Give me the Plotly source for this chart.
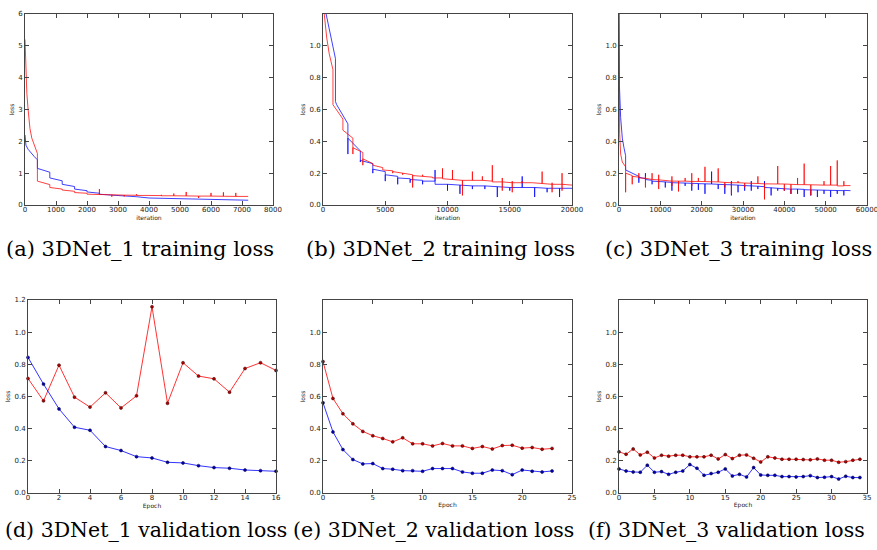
import plotly.graph_objects as go

# ---------------- data ----------------
# (a) 3DNet_1 training loss
a_red_iter = [0, 30, 60, 100, 160, 220, 300, 400, 400, 800, 800, 1200, 1200, 1600, 1600, 2000, 2000,
              2400, 2400, 2400, 2800, 2800, 2800, 3200, 3200, 3200, 3600, 3600, 3600, 4000, 4400, 4400, 4400,
              4800, 4800, 4800, 5200, 5200, 5200, 5600, 5600, 5600, 6000, 6000, 6000, 6400, 6400, 6400,
              6800, 6800, 6800, 7200]
a_red_loss = [5.2, 4.2, 3.5, 3.0, 2.4, 2.1, 1.9, 1.62, 0.75, 0.64, 0.55, 0.5, 0.47, 0.43, 0.39, 0.37, 0.34,
              0.33, 0.5, 0.33, 0.32, 0.26, 0.32, 0.31, 0.27, 0.31, 0.305, 0.34, 0.30, 0.30, 0.295, 0.32, 0.29,
              0.29, 0.36, 0.29, 0.285, 0.41, 0.285, 0.28, 0.22, 0.28, 0.28, 0.38, 0.28, 0.275, 0.40, 0.275,
              0.27, 0.38, 0.27, 0.27]
a_blue_iter = [0, 10, 30, 100, 200, 300, 400, 400, 800, 800, 1200, 1200, 1600, 1600, 2000, 2000, 2400, 2400,
               2800, 3200, 3600, 4000, 4400, 4800, 5200, 5600, 6000, 6400, 6800, 7200]
a_blue_loss = [2.2, 2.0, 1.88, 1.75, 1.62, 1.52, 1.42, 1.15, 1.03, 0.85, 0.76, 0.65, 0.58, 0.5, 0.45, 0.41,
               0.37, 0.34, 0.31, 0.29, 0.26, 0.22, 0.21, 0.19, 0.19, 0.18, 0.17, 0.16, 0.155, 0.15]

# (b) 3DNet_2 training loss
b_red_iter = [0, 100, 300, 500, 800, 800, 1600, 1600, 2400, 2400, 2400, 3200, 3200, 3200, 4000, 4000,
              4800, 4800, 5600, 5600, 5600, 6400, 6400, 6400, 7200, 7200, 7200, 8000, 8000, 8000, 8800, 8800,
              9600, 9600, 9600, 10400, 10400, 10400, 11200, 11200, 11200, 12000, 12000, 12000,
              12800, 12800, 12800, 13600, 13600, 13600, 14400, 14400, 14400, 14400,
              15200, 15200, 15200, 15200, 16000, 16000, 16000, 16800, 17600, 17600, 17600,
              18400, 18400, 18400, 18400, 19200, 19200, 19200, 19200, 20000]
b_red_loss = [1.35, 1.2, 1.05, 0.95, 0.85, 0.63, 0.54, 0.47, 0.42, 0.32, 0.36, 0.33, 0.25, 0.29, 0.26, 0.25,
              0.235, 0.22, 0.215, 0.20, 0.21, 0.20, 0.19, 0.20, 0.19, 0.11, 0.185, 0.18, 0.19, 0.18, 0.175, 0.17,
              0.17, 0.23, 0.165, 0.16, 0.22, 0.16, 0.155, 0.06, 0.155, 0.155, 0.21, 0.155,
              0.155, 0.18, 0.155, 0.15, 0.25, 0.145, 0.145, 0.09, 0.17, 0.145,
              0.14, 0.08, 0.15, 0.14, 0.14, 0.15, 0.14, 0.14, 0.135, 0.21, 0.135,
              0.13, 0.08, 0.14, 0.13, 0.13, 0.20, 0.09, 0.13, 0.125]
b_blue_iter = [250, 500, 800, 1000, 1000, 1100, 2000, 2000, 2000, 3000, 3000, 3000, 4000, 4000, 4000,
               5000, 5000, 5000, 6000, 6000, 6000, 7000, 7000, 7000, 8000, 8000, 8000, 9000, 9000, 9000,
               10000, 10000, 10000, 11000, 11000, 11000, 12000, 12000, 12000, 13000, 13000, 13000,
               14000, 14000, 14000, 15000, 15000, 15000, 16000, 16000, 16000, 17000, 17000, 17000,
               18000, 18000, 18000, 19000, 19000, 19000, 20000]
b_blue_loss = [1.2, 1.1, 1.0, 0.92, 0.65, 0.63, 0.51, 0.32, 0.42, 0.34, 0.27, 0.28, 0.26, 0.20, 0.225,
               0.21, 0.15, 0.19, 0.18, 0.13, 0.17, 0.165, 0.14, 0.16, 0.155, 0.13, 0.15, 0.15, 0.22, 0.13,
               0.13, 0.09, 0.13, 0.125, 0.07, 0.125, 0.12, 0.10, 0.12, 0.12, 0.10, 0.12,
               0.115, 0.05, 0.115, 0.11, 0.09, 0.11, 0.11, 0.18, 0.11, 0.11, 0.05, 0.11,
               0.105, 0.08, 0.105, 0.105, 0.05, 0.105, 0.105]

# (c) 3DNet_3 training loss
c_red_iter = [0, 80, 160, 400, 800, 1600, 1600, 1600, 3200, 3200, 3200, 4800, 4800, 4800, 6400, 6400, 6400, 6400,
              8000, 8000, 8000, 9600, 9600, 9600, 9600, 12800, 12800, 12800, 12800, 14400, 14400, 14400,
              16000, 16000, 16000, 17600, 17600, 17600, 17600, 19200, 19200, 19200, 20800, 20800, 20800,
              24000, 24000, 24000, 25600, 25600, 25600, 27200, 27200, 27200, 28800, 28800, 28800,
              30400, 30400, 30400, 33600, 33600, 33600, 35200, 35200, 35200, 38400, 38400, 38400,
              40000, 40000, 40000, 41600, 41600, 41600, 43200, 43200, 43200, 44800, 44800, 44800,
              46400, 46400, 46400, 49600, 49600, 49600, 51200, 51200, 51200, 52800, 52800, 52800,
              54400, 54400, 54400, 56000]
c_red_loss = [1.2, 0.8, 0.45, 0.32, 0.27, 0.24, 0.08, 0.20, 0.185, 0.13, 0.18, 0.175, 0.20, 0.17, 0.168, 0.11, 0.18, 0.168,
              0.16, 0.20, 0.16, 0.158, 0.10, 0.19, 0.158, 0.15, 0.12, 0.18, 0.15, 0.15, 0.085, 0.15,
              0.15, 0.17, 0.15, 0.148, 0.12, 0.20, 0.148, 0.148, 0.17, 0.148, 0.147, 0.24, 0.147,
              0.145, 0.23, 0.145, 0.142, 0.11, 0.142, 0.14, 0.07, 0.14, 0.14, 0.15, 0.14,
              0.138, 0.11, 0.138, 0.135, 0.18, 0.135, 0.133, 0.035, 0.133, 0.132, 0.245, 0.132,
              0.132, 0.09, 0.132, 0.13, 0.07, 0.13, 0.128, 0.17, 0.128, 0.128, 0.26, 0.128,
              0.127, 0.06, 0.127, 0.125, 0.15, 0.125, 0.125, 0.245, 0.125, 0.125, 0.28, 0.12,
              0.12, 0.15, 0.122, 0.122]
c_blue_iter = [0, 100, 400, 800, 1200, 1600, 1600, 3200, 4800, 4800, 4800, 6400, 6400, 6400, 8000, 8000, 8000,
               11200, 11200, 11200, 12800, 12800, 12800, 16000, 16000, 16000, 17600, 17600, 17600,
               19200, 19200, 19200, 20800, 20800, 20800, 22400, 22400, 22400, 24000, 24000, 24000,
               25600, 25600, 25600, 27200, 27200, 27200, 27200, 28800, 28800, 28800, 30400, 30400, 30400,
               32000, 32000, 32000, 32000, 33600, 33600, 33600, 35200, 35200, 35200, 36800, 36800, 36800,
               38400, 38400, 38400, 40000, 40000, 40000, 41600, 41600, 41600, 43200, 43200, 43200,
               44800, 44800, 44800, 46400, 46400, 46400, 48000, 48000, 48000, 49600, 49600, 49600,
               51200, 51200, 51200, 52800, 52800, 52800, 54400, 54400, 54400, 56000]
c_blue_loss = [1.2, 0.75, 0.55, 0.42, 0.36, 0.31, 0.22, 0.20, 0.18, 0.14, 0.175, 0.165, 0.20, 0.16, 0.155, 0.13, 0.15,
               0.145, 0.11, 0.145, 0.142, 0.09, 0.14, 0.138, 0.12, 0.138, 0.136, 0.09, 0.136,
               0.135, 0.095, 0.134, 0.133, 0.07, 0.133, 0.132, 0.21, 0.132, 0.13, 0.10, 0.13,
               0.128, 0.07, 0.128, 0.127, 0.15, 0.06, 0.127, 0.125, 0.08, 0.125, 0.122, 0.09, 0.122,
               0.12, 0.15, 0.09, 0.12, 0.118, 0.10, 0.118, 0.115, 0.15, 0.11, 0.108, 0.06, 0.108,
               0.105, 0.09, 0.105, 0.102, 0.09, 0.102, 0.10, 0.07, 0.10, 0.10, 0.07, 0.10,
               0.098, 0.05, 0.096, 0.095, 0.06, 0.095, 0.094, 0.05, 0.094, 0.093, 0.07, 0.093,
               0.092, 0.05, 0.092, 0.091, 0.07, 0.091, 0.09, 0.06, 0.092, 0.09]

# (d) 3DNet_1 validation loss
d_epoch = list(range(17))
d_red = [0.712, 0.573, 0.795, 0.596, 0.534, 0.623, 0.529, 0.604, 1.158, 0.558, 0.81, 0.727, 0.71, 0.627, 0.774, 0.81, 0.762]
d_blue = [0.843, 0.677, 0.523, 0.409, 0.39, 0.289, 0.264, 0.226, 0.218, 0.191, 0.187, 0.17, 0.158, 0.154, 0.143, 0.139, 0.135]

# (e) 3DNet_2 validation loss
e_epoch = list(range(24))
e_red = [0.817, 0.588, 0.493, 0.43, 0.383, 0.356, 0.339, 0.318, 0.343, 0.306, 0.306, 0.293, 0.308, 0.293,
         0.293, 0.277, 0.289, 0.274, 0.295, 0.297, 0.279, 0.283, 0.272, 0.277]
e_blue = [0.561, 0.38, 0.27, 0.208, 0.181, 0.183, 0.152, 0.148, 0.139, 0.139, 0.135, 0.152, 0.152, 0.152,
          0.131, 0.123, 0.123, 0.143, 0.139, 0.114, 0.143, 0.135, 0.131, 0.137]

# (f) 3DNet_3 validation loss
f_epoch = list(range(35))
f_red = [0.256, 0.241, 0.274, 0.237, 0.254, 0.218, 0.235, 0.229, 0.235, 0.235, 0.225, 0.225, 0.225, 0.235,
         0.212, 0.239, 0.214, 0.235, 0.237, 0.216, 0.193, 0.225, 0.218, 0.21, 0.21, 0.21, 0.208, 0.206,
         0.212, 0.204, 0.204, 0.191, 0.195, 0.204, 0.21]
f_blue = [0.15, 0.137, 0.131, 0.129, 0.173, 0.129, 0.133, 0.116, 0.129, 0.137, 0.177, 0.154, 0.11, 0.121,
          0.129, 0.15, 0.106, 0.116, 0.1, 0.158, 0.112, 0.11, 0.11, 0.102, 0.102, 0.1, 0.102, 0.108, 0.096,
          0.098, 0.102, 0.087, 0.104, 0.096, 0.096]

captions_top = ["(a) 3DNet_1 training loss", "(b) 3DNet_2 training loss", "(c) 3DNet_3 training loss"]
captions_bottom = ["(d) 3DNet_1 validation loss", "(e) 3DNet_2 validation loss", "(f) 3DNet_3 validation loss"]

# ---------------- figure ----------------
W, H = 877, 550
fig = go.Figure()

def px(x):
    return x / W

def py(y):
    return 1 - y / H

panels = [
    ("", (25, 273), (14, 205), [0, 8000], 1000, [0, 6], [0, 1, 2, 3, 4, 5, 6], "iteration"),
    ("2", (323, 572), (14, 205), [0, 20000], 5000, [0, 1.2], [0, 0.2, 0.4, 0.6, 0.8, 1.0], "iteration"),
    ("3", (619, 867), (14, 205), [0, 60000], 10000, [0, 1.2], [0, 0.2, 0.4, 0.6, 0.8, 1.0], "iteration"),
    ("4", (28, 276), (300, 493), [0, 16], 2, [0, 1.2], [0, 0.2, 0.4, 0.6, 0.8, 1.0, 1.2], "Epoch"),
    ("5", (323, 572), (300, 493), [0, 25], 5, [0, 1.2], [0, 0.2, 0.4, 0.6, 0.8, 1.0], "Epoch"),
    ("6", (619, 867), (300, 493), [0, 35], 5, [0, 1.2], [0, 0.2, 0.4, 0.6, 0.8, 1.0], "Epoch"),
]

tickfont = dict(family="DejaVu Sans", size=7, color="#222")
titlefont = dict(family="DejaVu Sans", size=6, color="#222")
axcommon = dict(showgrid=False, zeroline=False, showline=True, linecolor="#444", linewidth=1,
                mirror="ticks", ticks="inside", ticklen=4, tickcolor="#444", tickfont=tickfont,
                automargin=False, ticklabeloverflow="allow")

layout = {}
for i, (n, xd, yd, xr, xdt, yr, ytv, xt) in enumerate(panels):
    xa = "xaxis" + n
    ya = "yaxis" + n
    layout[xa] = dict(domain=[px(xd[0]), px(xd[1])], range=xr, dtick=xdt, tick0=0, tickformat="d",
                      ticklabelstandoff=-2,
                      anchor="y" + n, title=dict(text=xt, font=titlefont, standoff=1), **axcommon)
    yfmt = "d" if i == 0 else ".1f"
    layout[ya] = dict(domain=[py(yd[1]), py(yd[0])], range=yr, tickvals=ytv, tickformat=yfmt,
                      anchor="x" + n, title=dict(text="loss", font=titlefont, standoff=3), **axcommon)

train = [
    ("x", "y", a_red_iter, a_red_loss, a_blue_iter, a_blue_loss),
    ("x2", "y2", b_red_iter, b_red_loss, b_blue_iter, b_blue_loss),
    ("x3", "y3", c_red_iter, c_red_loss, c_blue_iter, c_blue_loss),
]
for xa, ya, rx, ry, bx, by in train:
    fig.add_trace(go.Scatter(x=bx, y=by, xaxis=xa, yaxis=ya, mode="lines",
                             line=dict(color="rgba(0,0,255,0.75)", width=1), showlegend=False))
    fig.add_trace(go.Scatter(x=rx, y=ry, xaxis=xa, yaxis=ya, mode="lines",
                             line=dict(color="rgba(255,0,0,0.75)", width=1), showlegend=False))

val = [
    ("x4", "y4", d_epoch, d_red, d_blue),
    ("x5", "y5", e_epoch, e_red, e_blue),
    ("x6", "y6", f_epoch, f_red, f_blue),
]
for xa, ya, ex, ry, by in val:
    fig.add_trace(go.Scatter(x=ex, y=ry, xaxis=xa, yaxis=ya, mode="lines+markers",
                             line=dict(color="rgba(255,0,0,0.8)", width=1),
                             marker=dict(color="#b00000", size=3, line=dict(color="#300", width=0.5)),
                             showlegend=False, cliponaxis=False))
    fig.add_trace(go.Scatter(x=ex, y=by, xaxis=xa, yaxis=ya, mode="lines+markers",
                             line=dict(color="rgba(0,0,255,0.8)", width=1),
                             marker=dict(color="#0000b0", size=3, line=dict(color="#003", width=0.5)),
                             showlegend=False, cliponaxis=False))

capfont_top = dict(family="DejaVu Serif", size=21, color="black")
capfont_bot = dict(family="DejaVu Serif", size=20.5, color="black")
annotations = []
for lx, txt in zip([4, 304, 603], captions_top):
    annotations.append(dict(x=px(lx), y=py(249), xref="paper", yref="paper", text=txt,
                            showarrow=False, font=capfont_top, xanchor="left", yanchor="middle"))
for lx, txt in zip([3, 291, 586], captions_bottom):
    annotations.append(dict(x=px(lx), y=py(530), xref="paper", yref="paper", text=txt,
                            showarrow=False, font=capfont_bot, xanchor="left", yanchor="middle"))

fig.update_layout(width=W, height=H, margin=dict(l=0, r=0, t=0, b=0, autoexpand=False),
                  paper_bgcolor="white", plot_bgcolor="white",
                  annotations=annotations, **layout)

fig.write_html("out.html", config={"displayModeBar": False},
               post_script="document.body.style.margin='0';")
